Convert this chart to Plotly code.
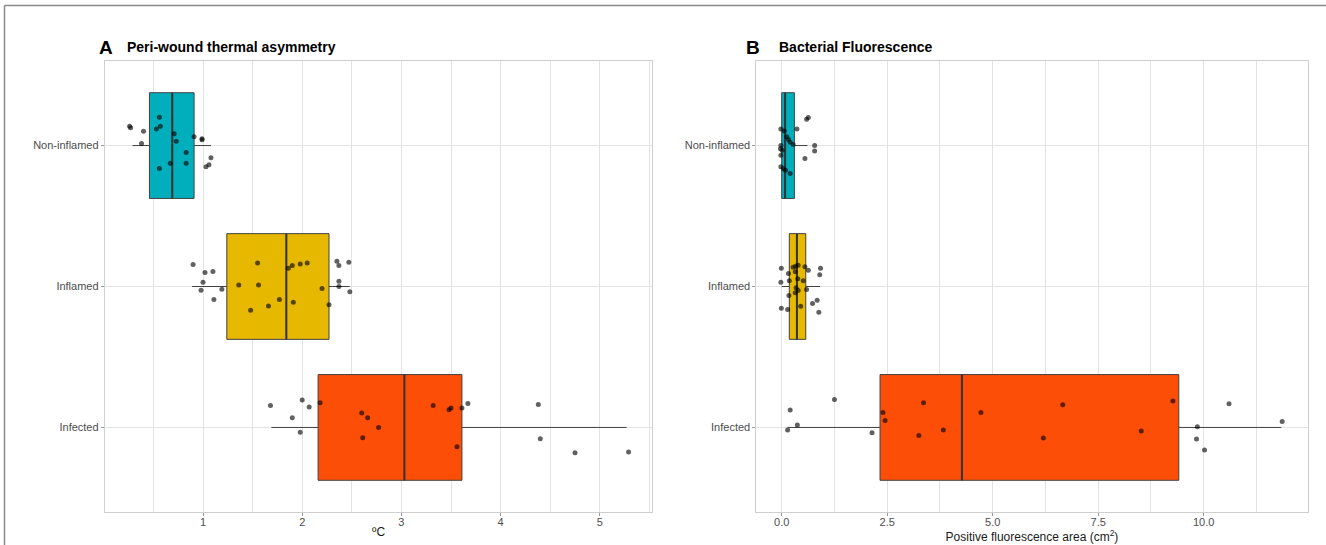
import plotly.graph_objects as go

W, H = 1326, 545

categories = ["Non-inflamed", "Inflamed", "Infected"]
colors = ["#00AFBB", "#E7B800", "#FC4E07"]

# ---- Panel A: Peri-wound thermal asymmetry (ºC) ----
a_q1 = [0.46, 1.24, 2.16]
a_median = [0.69, 1.84, 3.03]
a_q3 = [0.91, 2.27, 3.61]
a_lower = [0.29, 0.89, 1.69]
a_upper = [1.08, 2.48, 5.27]

a_non_x = [0.26, 0.27, 0.40, 0.38, 0.56, 0.53, 0.57, 0.56, 0.67, 0.71, 0.73, 0.83, 0.83, 0.91, 0.99, 0.99, 1.08, 1.06, 1.03]
a_non_j = [-0.137, -0.126, -0.101, -0.014, -0.201, -0.118, -0.137, 0.163, 0.126, -0.083, -0.030, 0.050, 0.126, -0.062, -0.048, -0.041, 0.087, 0.137, 0.151]
a_inf_x = [0.90, 1.02, 1.10, 1.00, 0.98, 1.11, 1.19, 1.36, 1.55, 1.56, 1.48, 1.66, 1.77, 1.86, 1.90, 1.98, 2.05, 1.91, 2.20, 2.27, 2.35, 2.37, 2.47, 2.37, 2.37, 2.48]
a_inf_j = [-0.156, -0.099, -0.106, -0.030, 0.026, 0.092, 0.019, -0.011, -0.167, -0.011, 0.168, 0.138, 0.092, -0.130, -0.149, -0.160, -0.167, 0.111, 0.014, 0.130, -0.179, -0.149, -0.172, -0.038, 0.000, 0.038]
a_ifd_x = [1.68, 2.00, 2.07, 1.90, 1.98, 2.18, 2.60, 2.66, 2.77, 2.61, 3.32, 3.48, 3.50, 3.61, 3.67, 3.56, 4.38, 4.40, 4.75, 5.29]
a_ifd_j = [-0.156, -0.194, -0.145, -0.069, 0.035, -0.175, -0.102, -0.069, 0.000, 0.073, -0.156, -0.126, -0.138, -0.138, -0.170, 0.137, -0.163, 0.080, 0.179, 0.174]

# ---- Panel B: Bacterial fluorescence (cm²) ----
b_q1 = [0.00, 0.18, 2.33]
b_median = [0.08, 0.36, 4.27]
b_q3 = [0.30, 0.57, 9.41]
b_lower = [0.00, 0.00, 0.14]
b_upper = [0.61, 0.91, 11.84]

b_non_x = [-0.02, 0.06, 0.12, 0.16, 0.20, 0.27, -0.02, -0.03, 0.01, -0.02, -0.02, 0.04, 0.09, 0.20, 0.36, 0.59, 0.63, 0.78, 0.78, 0.55]
b_non_j = [-0.118, -0.104, -0.062, -0.043, -0.023, -0.007, 0.000, 0.023, 0.033, 0.069, 0.151, 0.165, 0.175, 0.199, -0.118, -0.187, -0.199, 0.000, 0.038, 0.092]
b_inf_x = [-0.01, 0.16, 0.27, 0.33, 0.39, 0.55, 0.63, 0.92, 0.90, -0.02, 0.18, 0.32, 0.38, 0.51, 0.34, 0.39, 0.59, 0.17, -0.01, 0.14, 0.45, 0.73, 0.84, 0.88, 0.32]
b_inf_j = [-0.130, -0.092, -0.137, -0.144, -0.151, -0.140, -0.116, -0.130, -0.083, -0.030, -0.040, -0.104, -0.055, -0.040, 0.009, 0.028, 0.021, 0.064, 0.154, 0.163, 0.140, 0.121, 0.097, 0.182, 0.045]
b_ifd_x = [0.20, 0.14, 0.37, 1.25, 2.14, 2.40, 2.45, 3.25, 3.36, 3.83, 4.72, 6.20, 6.66, 8.52, 9.27, 9.85, 9.83, 10.02, 10.60, 11.86]
b_ifd_j = [-0.123, 0.018, -0.017, -0.199, 0.038, -0.106, -0.050, 0.057, -0.175, 0.018, -0.106, 0.075, -0.161, 0.026, -0.187, -0.005, 0.082, 0.160, -0.168, -0.043]

BOX_W = 0.75
positions = [0, 1, 2]

fig = go.Figure()


def add_panel(xa, ya, q1, med, q3, lo, hi, pts):
    for i, cat in enumerate(categories):
        fig.add_trace(go.Box(
            y=[positions[i]], q1=[q1[i]], median=[med[i]], q3=[q3[i]],
            lowerfence=[lo[i]], upperfence=[hi[i]], orientation="h",
            width=BOX_W, whiskerwidth=0, fillcolor=colors[i],
            line=dict(color="#404040", width=1), boxpoints=False,
            xaxis=xa, yaxis=ya, showlegend=False, hoverinfo="skip"))
        fig.add_trace(go.Scatter(
            x=[med[i], med[i]],
            y=[positions[i] - BOX_W / 2, positions[i] + BOX_W / 2],
            mode="lines", line=dict(color="#333333", width=2),
            xaxis=xa, yaxis=ya, showlegend=False, hoverinfo="skip"))
    for i, (xs, js) in enumerate(pts):
        fig.add_trace(go.Scatter(
            x=xs, y=[positions[i] + j for j in js], mode="markers",
            marker=dict(size=5, color="rgba(0,0,0,0.62)"),
            xaxis=xa, yaxis=ya, showlegend=False, hoverinfo="skip"))


add_panel("x", "y", a_q1, a_median, a_q3, a_lower, a_upper,
          [(a_non_x, a_non_j), (a_inf_x, a_inf_j), (a_ifd_x, a_ifd_j)])
add_panel("x2", "y2", b_q1, b_median, b_q3, b_lower, b_upper,
          [(b_non_x, b_non_j), (b_inf_x, b_inf_j), (b_ifd_x, b_ifd_j)])

grid = "#e3e3e3"
border = "#cfcfcf"
tickfont = dict(family="Liberation Sans, Arial, sans-serif", size=11, color="#4d4d4d")
titlefont = dict(family="Liberation Sans, Arial, sans-serif", size=12, color="#1a1a1a")

ytop, ybot = 61, 512
ydom = [1 - ybot / H, 1 - ytop / H]

common_x = dict(showgrid=True, gridcolor=grid, gridwidth=1, zeroline=False,
                showline=True, linecolor=border, linewidth=1, mirror=True,
                ticks="outside", ticklen=3, tickcolor="#999999", tickfont=tickfont,
                ticklabelstandoff=-3,
                title_font=titlefont, title_standoff=0)
common_y = dict(showgrid=True, gridcolor=grid, gridwidth=1, zeroline=False,
                showline=True, linecolor=border, linewidth=1, mirror=True,
                ticks="outside", ticklen=3, tickcolor="#999999", tickfont=tickfont,
                tickvals=positions, ticktext=categories, range=[2.6, -0.6],
                domain=ydom)

fig.update_layout(
    width=W, height=H,
    margin=dict(l=0, r=0, t=0, b=0),
    paper_bgcolor="white", plot_bgcolor="white",
    boxmode="overlay",
    xaxis=dict(common_x, domain=[104.8 / W, 652.4 / W], range=[0.01, 5.53],
               tick0=0, dtick=1, title_text="ºC",
               minor=dict(showgrid=True, gridcolor=grid, dtick=0.5, tick0=0, ticks="")),
    yaxis=dict(common_y, anchor="x"),
    xaxis2=dict(common_x, domain=[756.4 / W, 1307.5 / W], range=[-0.6, 12.46],
                tick0=0, dtick=2.5, tickformat=".1f", anchor="y2",
                title_text="Positive fluorescence area (cm<sup>2</sup>)",
                minor=dict(showgrid=True, gridcolor=grid, dtick=1.25, tick0=0, ticks="")),
    yaxis2=dict(common_y, anchor="x2"),
)

tf = "Liberation Sans, Arial, sans-serif"
ty = 1 - 47 / H
fig.add_annotation(x=97 / W, y=ty, xref="paper", yref="paper", xanchor="left", yanchor="middle",
                   text="<b>A</b>", showarrow=False, font=dict(family=tf, size=19, color="black"))
fig.add_annotation(x=125 / W, y=ty, xref="paper", yref="paper", xanchor="left", yanchor="middle",
                   text="<b>Peri-wound thermal asymmetry</b>", showarrow=False,
                   font=dict(family=tf, size=14, color="black"))
fig.add_annotation(x=744 / W, y=ty, xref="paper", yref="paper", xanchor="left", yanchor="middle",
                   text="<b>B</b>", showarrow=False, font=dict(family=tf, size=19, color="black"))
fig.add_annotation(x=777 / W, y=ty, xref="paper", yref="paper", xanchor="left", yanchor="middle",
                   text="<b>Bacterial Fluorescence</b>", showarrow=False,
                   font=dict(family=tf, size=14, color="black"))

# outer frame (top and left edges)
fy = 1 - 5.5 / H
fx = 4.5 / W
fig.add_shape(type="line", xref="paper", yref="paper", x0=fx, x1=1, y0=fy, y1=fy,
              line=dict(color="#8a8a8a", width=1.5))
fig.add_shape(type="line", xref="paper", yref="paper", x0=fx, x1=fx, y0=0, y1=fy,
              line=dict(color="#8a8a8a", width=1.5))

fig.write_html("out.html", config={"displayModeBar": False},
               post_script="document.body.style.margin='0';document.body.style.overflow='hidden';")
